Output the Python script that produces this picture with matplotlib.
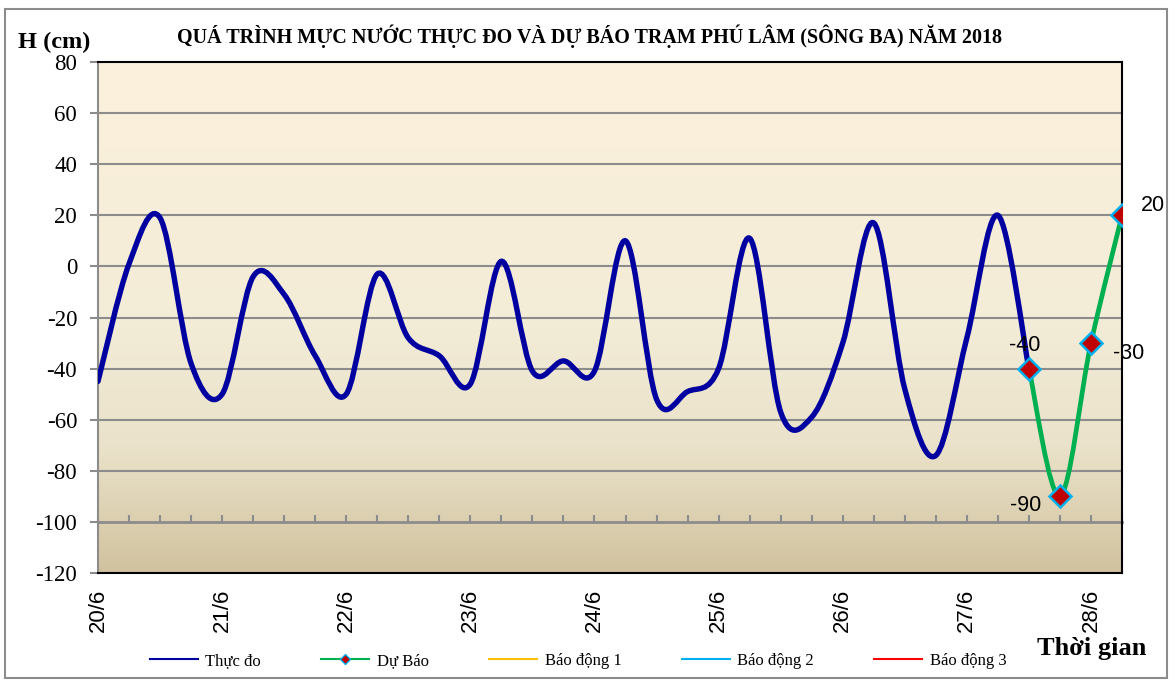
import numpy as np
import matplotlib.pyplot as plt
from matplotlib.path import Path
from matplotlib.patches import PathPatch, Rectangle
from matplotlib.lines import Line2D

plt.rcParams['axes.unicode_minus'] = False

# 6-hourly water level (cm), 20/6 00h -> 27/6 12h
thuc_do = [-45, 1, 19, -38, -50, -4, -11, -35, -50, -3, -28, -35, -46, 2, -41, -37,
           -41, 10, -52, -49, -40, 11, -57, -59, -30, 17, -48, -74, -28, 20, -40]
# forecast, continues from the last measured point
du_bao = [-40, -90, -30, 20]
ngay = ['20/6', '21/6', '22/6', '23/6', '24/6', '25/6', '26/6', '27/6', '28/6']

x_do = np.arange(len(thuc_do))
x_bao = np.arange(len(thuc_do) - 1, len(thuc_do) - 1 + len(du_bao))
n_total = len(thuc_do) - 1 + len(du_bao)


def smooth_path(x, y):
    # Excel style smoothed line (cubic bezier through each point)
    n = len(x)
    verts = [(x[0], y[0])]
    codes = [Path.MOVETO]
    for i in range(n - 1):
        xa, ya = (x[i - 1], y[i - 1]) if i > 0 else (x[i], y[i])
        xb, yb = (x[i + 2], y[i + 2]) if i + 2 < n else (x[i + 1], y[i + 1])
        c1 = (x[i] + (x[i + 1] - xa) / 6, y[i] + (y[i + 1] - ya) / 6)
        c2 = (x[i + 1] - (xb - x[i]) / 6, y[i + 1] - (yb - y[i]) / 6)
        verts += [c1, c2, (x[i + 1], y[i + 1])]
        codes += [Path.CURVE4] * 3
    return Path(verts, codes)


serif = ['Liberation Serif', 'DejaVu Serif']
sans = ['Liberation Sans', 'DejaVu Sans']

fig = plt.figure(figsize=(11.76, 6.8), dpi=100)
ax = fig.add_axes([98 / 1176, 1 - 573 / 680, (1122 - 98) / 1176, (573 - 62) / 680])
ax.set_xlim(0, n_total - 1)
ax.set_ylim(-120, 80)

# background gradient
stops = [0, 0.5, 0.75, 0.88, 1.0]
cols = np.array([[252, 241, 220], [243, 236, 215], [234, 226, 202],
                 [222, 210, 180], [208, 194, 158]]) / 255
t = np.linspace(0, 1, 300)
grad = np.stack([np.interp(t, stops, cols[:, c]) for c in range(3)], axis=1)
ax.imshow(grad[:, None, :], extent=[0, n_total - 1, -120, 80], aspect='auto', zorder=0)

# grid
for v in range(-80, 80, 20):
    ax.axhline(v, color='#8c8c8c', lw=1.5, zorder=1)

ax.add_patch(PathPatch(smooth_path(x_do, thuc_do), facecolor='none',
                       edgecolor='#0000a0', lw=3.9, zorder=3, capstyle='round'))
ax.add_patch(PathPatch(smooth_path(x_bao, du_bao), facecolor='none',
                       edgecolor='#00b050', lw=3.4, zorder=4))
ax.plot(x_bao, du_bao, linestyle='none', marker='D', ms=11, mfc='#c00000',
        mec='#00b0f0', mew=1.8, zorder=5)

offsets = [(-3, 16.5), (-24.5, -6.5), (27, -7.5), (22.5, 7)]
for xi, yi, off in zip(x_bao, du_bao, offsets):
    ax.annotate(str(yi), (xi, yi), xytext=off, textcoords='offset points',
                ha='center', va='center', fontsize=15.5, family=sans, annotation_clip=False)

# spines
for s in ['top', 'right', 'bottom']:
    ax.spines[s].set_color('black')
    ax.spines[s].set_linewidth(1.5)
ax.spines['left'].set_color('#8c8c8c')
ax.spines['left'].set_linewidth(1.5)

ax.set_yticks(range(-120, 81, 20))
ax.tick_params(axis='y', length=6, width=1.5, color='#8c8c8c', pad=9, labelsize=16.5)
for lb in ax.get_yticklabels():
    lb.set_family(serif)

ax.set_xticks(np.arange(0, n_total, 4))
ax.set_xticklabels(ngay, rotation=90, family=sans, fontsize=16)
ax.tick_params(axis='x', length=0, pad=11)

# category axis crossing at -100
sec = ax.secondary_xaxis(0.1)
sec.set_xticks(np.arange(n_total))
sec.set_xticklabels([])
sec.tick_params(axis='x', direction='in', length=5, width=1.5, color='#8c8c8c')
sec.spines['bottom'].set_color('#8c8c8c')
sec.spines['bottom'].set_linewidth(2)

fig.text(18 / 1176, 1 - 42 / 680, 'H (cm)', family=serif, weight='bold', fontsize=17.5, va='center')
fig.text(590 / 1176, 1 - 36 / 680,
         'QUÁ TRÌNH MỰC NƯỚC THỰC ĐO VÀ DỰ BÁO TRẠM PHÚ LÂM (SÔNG BA) NĂM 2018',
         family=serif, weight='bold', fontsize=14.5, ha='center', va='center')
fig.text(1092 / 1176, 1 - 648 / 680, 'Thời gian', family=serif, weight='bold',
         fontsize=19, ha='center', va='center')

handles = [
    Line2D([], [], color='#0000a0', lw=1.5),
    Line2D([], [], color='#00b050', lw=1.5, marker='D', ms=5, mfc='#c00000', mec='#00b0f0'),
    Line2D([], [], color='#ffc000', lw=1.5),
    Line2D([], [], color='#00b0f0', lw=1.5),
    Line2D([], [], color='#ff0000', lw=1.5),
]
labels = ['Thực đo', 'Dự Báo', 'Báo động 1', 'Báo động 2', 'Báo động 3']
fig.legend(handles, labels, loc='center', bbox_to_anchor=(578 / 1176, 1 - 661 / 680),
           ncol=5, frameon=False, prop={'family': serif, 'size': 12},
           handlelength=2.9, columnspacing=3.6, handletextpad=0.45)

fig.patches.append(Rectangle((5 / 1176, 2 / 680), 1162 / 1176, 669 / 680,
                             transform=fig.transFigure, fill=False,
                             edgecolor='#8c8c8c', lw=1.5))

fig.savefig('out.png', dpi=100)
